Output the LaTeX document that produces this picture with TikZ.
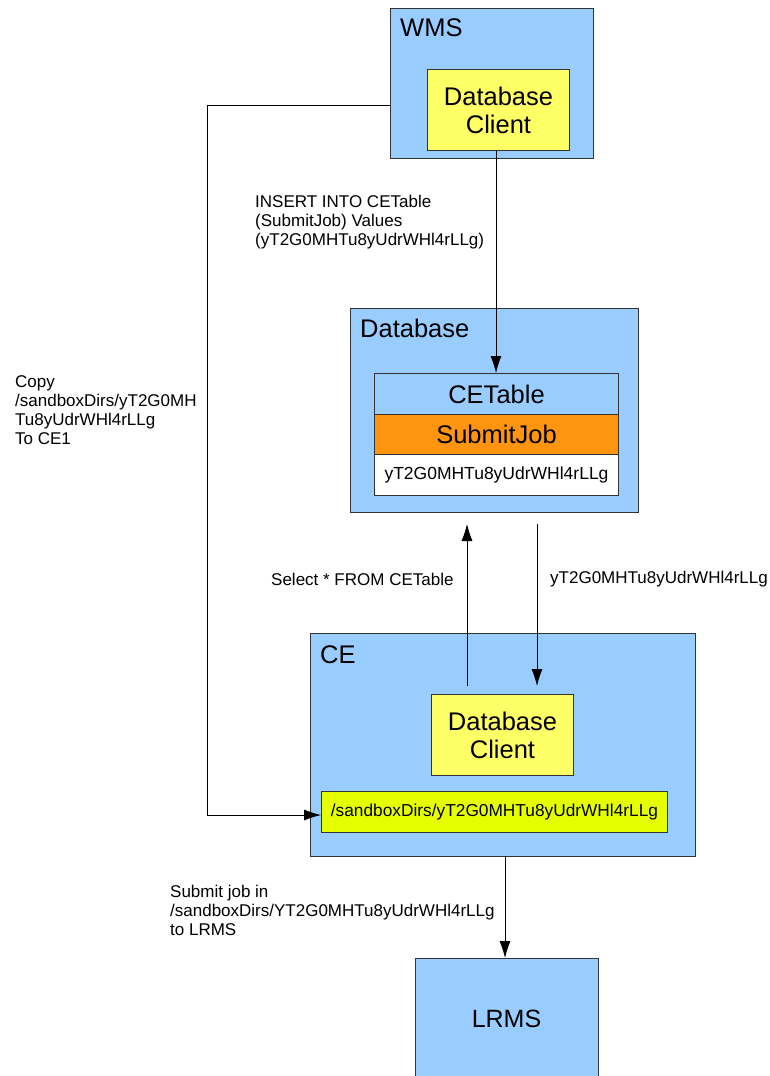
\documentclass[tikz,border=0pt]{standalone}
\usepackage{fontspec}
\setmainfont{Liberation Sans}
\usetikzlibrary{arrows.meta}
\definecolor{boxblue}{HTML}{99CCFF}
\definecolor{boxyellow}{HTML}{FFFF66}
\definecolor{boxorange}{HTML}{FF950E}
\definecolor{boxlime}{HTML}{E6FF00}
\definecolor{edge}{HTML}{333333}
\tikzset{
  box/.style={draw=edge, line width=1pt, rectangle, inner sep=0pt, anchor=north west},
  bluebox/.style={box, fill=boxblue},
  yellowbox/.style={box, fill=boxyellow, align=center, font=\fontsize{25.5}{28}\selectfont},
  title/.style={anchor=base west, inner sep=0pt, font=\fontsize{25.5}{28}\selectfont},
  lbl/.style={anchor=north west, inner sep=0pt, align=left, font=\fontsize{17}{19}\selectfont},
  conn/.style={draw=black, line width=0.8pt},
  arr/.style={conn, -{Latex[length=17pt,width=11pt]}}
}
\begin{document}
\begin{tikzpicture}[x=1pt,y=-1pt]
\useasboundingbox (0,0) rectangle (770,1076);
% WMS
\node[bluebox, minimum width=203, minimum height=150] (wms) at (390,8) {};
\node[title] (wmst) at (400,36) {WMS};
\node[yellowbox, minimum width=142, minimum height=81] (wmsdb) at (427,69) {Database\\Client};
% Database
\node[bluebox, minimum width=288, minimum height=204] (db) at (350,308) {};
\node[title] (dbt) at (360,337) {Database};
\node[box, fill=boxblue, minimum width=244, minimum height=41, font=\fontsize{25.5}{28}\selectfont] (cetable) at (374,373) {CETable};
\node[box, fill=boxorange, minimum width=244, minimum height=40, font=\fontsize{25.5}{28}\selectfont] (submitjob) at (374,414) {SubmitJob};
\node[box, fill=white, minimum width=244, minimum height=41, font=\fontsize{17.5}{20}\selectfont] (jobid) at (374,454) {yT2G0MHTu8yUdrWHl4rLLg};
% CE
\node[bluebox, minimum width=385, minimum height=223] (ce) at (310,633) {};
\node[title] (cet) at (320,663) {CE};
\node[yellowbox, minimum width=142, minimum height=81] (cedb) at (431,694) {Database\\Client};
\node[box, fill=boxlime, minimum width=346, minimum height=41, font=\fontsize{17.3}{20}\selectfont] (sandbox) at (321,791) {/sandboxDirs/yT2G0MHTu8yUdrWHl4rLLg};
% LRMS
\node[bluebox, minimum width=183, minimum height=130] (lrms) at (415,958) {};
\node[anchor=center, inner sep=0pt, font=\fontsize{25}{29}\selectfont] (lrmst) at (506.5,1019) {LRMS};
% labels
\node[lbl] (l1) at (255,195) {INSERT INTO CETable\\(SubmitJob) Values\\(yT2G0MHTu8yUdrWHl4rLLg)};
\node[lbl] (l2) at (15,375) {Copy\\/sandboxDirs/yT2G0MH\\Tu8yUdrWHl4rLLg\\To CE1};
\node[lbl, anchor=west] (l3) at (271,579) {Select * FROM CETable};
\node[lbl, anchor=west] (l4) at (550,579) {yT2G0MHTu8yUdrWHl4rLLg};
\node[lbl] (l5) at (170,885) {Submit job in\\/sandboxDirs/YT2G0MHTu8yUdrWHl4rLLg\\to LRMS};
% helper coordinates
\coordinate (xa) at (496,0);
\coordinate (xs) at (467,0);
\coordinate (xr) at (537,0);
\coordinate (xl) at (505,0);
\coordinate (cpy) at (0,105);
\coordinate (cpx) at (207,0);
\coordinate (sby) at (0,815);
% connectors
\draw[arr] (wmsdb.south -| xa) -- (cetable.north -| xa);
\draw[arr, shorten <=8pt, shorten >=11pt] (cedb.north -| xs) -- (db.south -| xs);
\draw[arr, shorten <=11pt, shorten >=8pt] (db.south -| xr) -- (cedb.north -| xr);
\draw[arr] (wms.west |- cpy) -- (cpx |- cpy) -- (cpx |- sby) -- (sandbox.west |- sby);
\draw[arr] (ce.south -| xl) -- (lrms.north -| xl);
\end{tikzpicture}
\end{document}
